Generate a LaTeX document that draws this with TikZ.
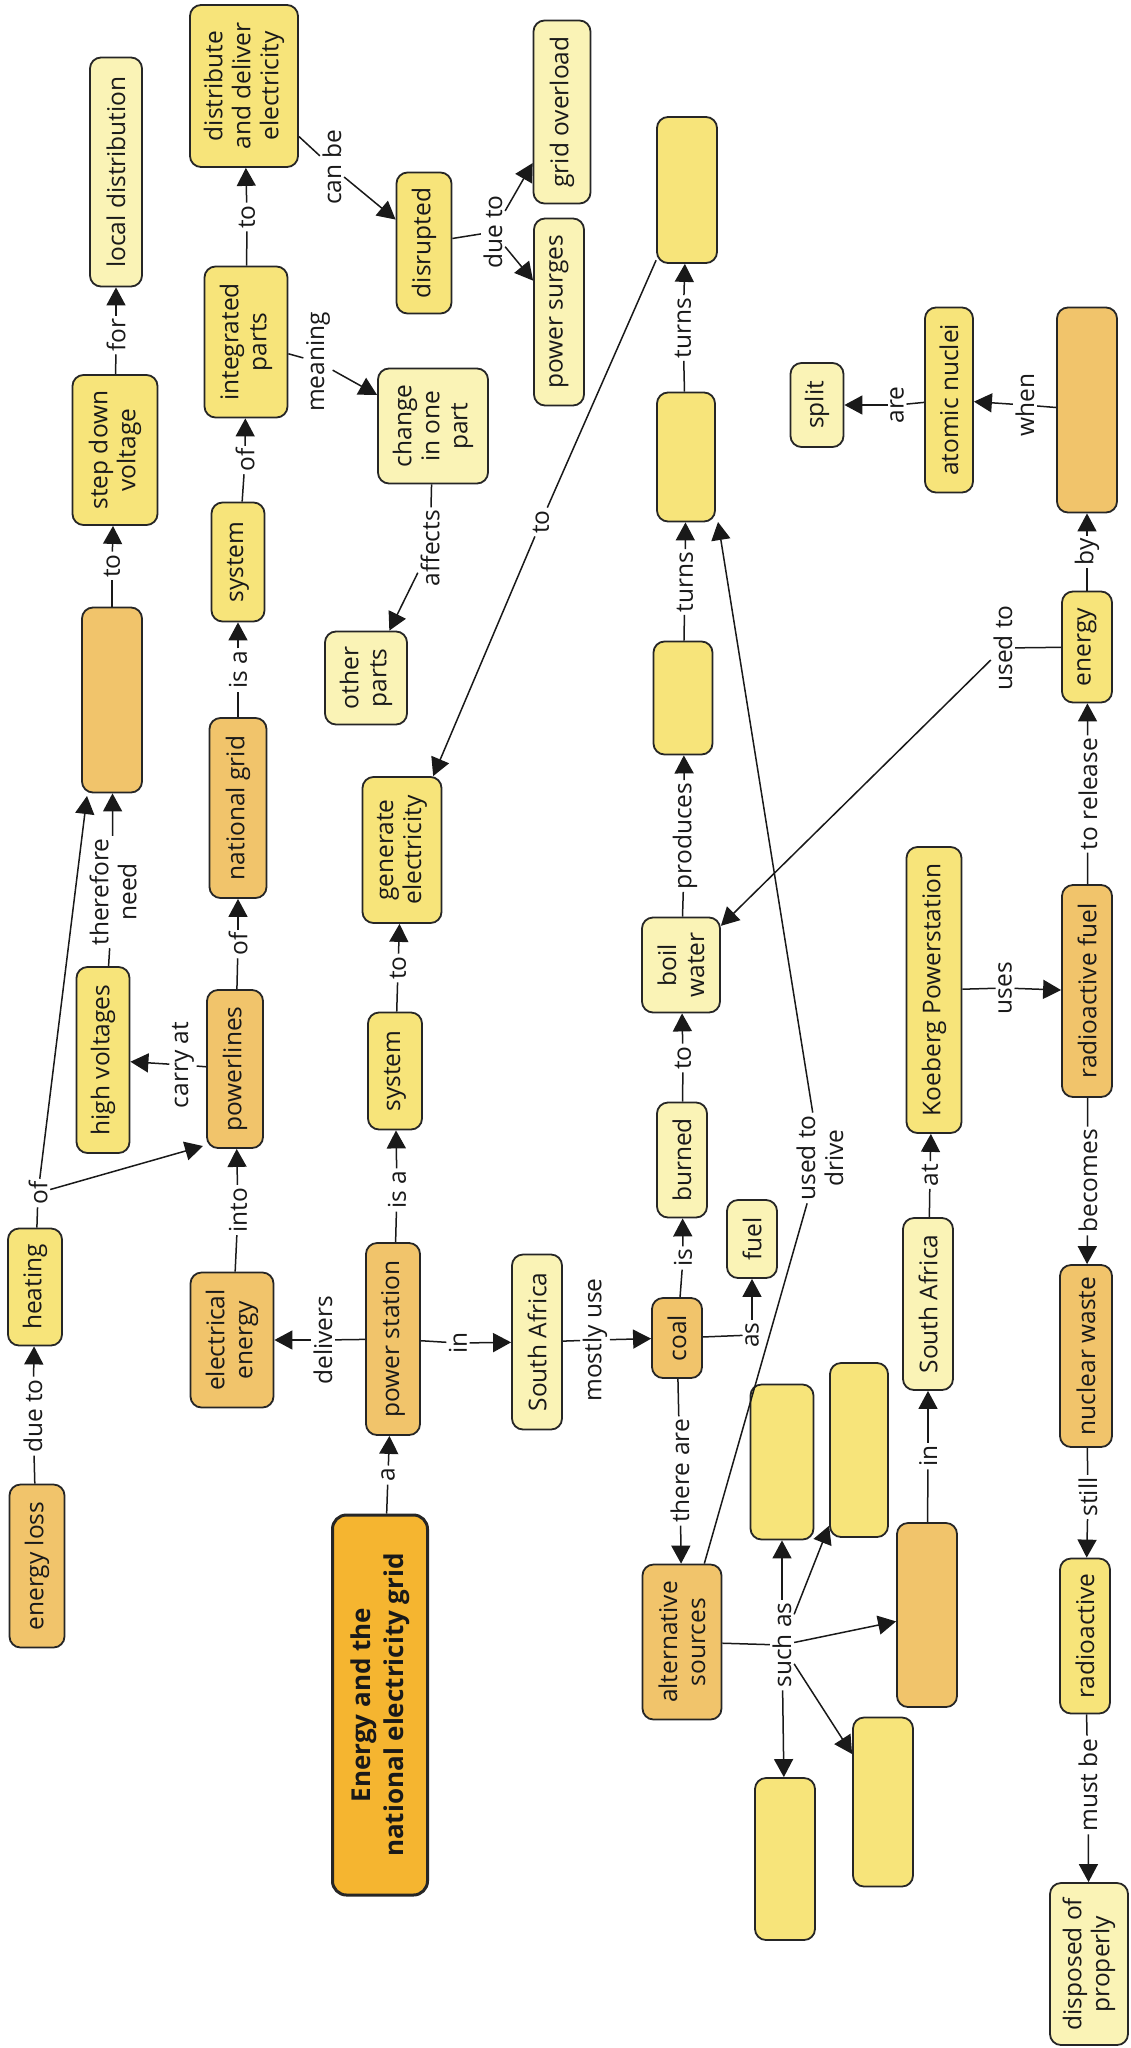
\documentclass[tikz,border=0pt]{standalone}
\usepackage{fontspec}
\setmainfont{Open Sans}
\usetikzlibrary{arrows.meta}
\definecolor{cLight}{HTML}{FAF3B6}
\definecolor{cYel}{HTML}{F7E47A}
\definecolor{cOra}{HTML}{F1C46B}
\definecolor{cTitle}{HTML}{F5B530}
\newcommand{\cmfont}{\fontsize{24.5}{28}\selectfont}
\newcommand{\cmtitle}{\fontsize{26}{33}\selectfont\bfseries}
\tikzset{
  box/.style={draw=black!85, line width=1.8pt, rounded corners=11pt, rotate=90, align=center, inner sep=2pt, font=\cmfont, text=black!90},
  lt/.style={box, fill=cLight},
  yl/.style={box, fill=cYel},
  og/.style={box, fill=cOra},
  ttl/.style={box, fill=cTitle, line width=3pt, rounded corners=14pt, font=\cmtitle},
  lbl/.style={rotate=90, inner sep=2.5pt, align=center, font=\cmfont, text=black!90},
  ln/.style={line width=1.5pt, draw=black!90},
  ar/.style={line width=1.5pt, draw=black!90, -{Triangle[length=18pt,width=19pt]}}
}
\begin{document}
\begin{tikzpicture}[x=1pt,y=-1pt]
\useasboundingbox (0,0) rectangle (1131,2048);
\fill[white] (0,0) rectangle (1131,2048);
% concepts
\node[lt, minimum width=229pt, minimum height=52pt] (locdist) at (116,172) {local distribution};
\node[yl, minimum width=150pt, minimum height=85pt] (stepdown) at (115,450) {step down\\voltage};
\node[yl, minimum width=162pt, minimum height=108pt] (distrib) at (244,86) {distribute\\and deliver\\electricity};
\node[yl, minimum width=151pt, minimum height=83pt] (integ) at (246,342) {integrated\\parts};
\node[yl, minimum width=141pt, minimum height=55pt] (disrupted) at (424,243) {disrupted};
\node[lt, minimum width=183pt, minimum height=57pt] (gridover) at (562,112) {grid overload};
\node[lt, minimum width=187pt, minimum height=50pt] (surges) at (559,312) {power surges};
\node[lt, minimum width=115pt, minimum height=110pt] (change) at (433,426) {change\\in one\\part};
\node[yl, minimum width=146pt, minimum height=60pt] (gA) at (687,190) {};
\node[yl, minimum width=129pt, minimum height=58pt] (gB) at (686,457) {};
\node[yl, minimum width=113pt, minimum height=59pt] (gC) at (683,698) {};
\node[lt, minimum width=95pt, minimum height=78pt] (boil) at (681,965) {boil\\water};
\node[lt, minimum width=115pt, minimum height=50pt] (burned) at (682,1160) {burned};
\node[og, minimum width=80pt, minimum height=50pt] (coal) at (677,1338) {coal};
\node[lt, minimum width=78pt, minimum height=50pt] (fuel) at (752,1239) {fuel};
\node[og, minimum width=155pt, minimum height=79pt] (altsrc) at (682,1642) {alternative\\sources};
\node[yl, minimum width=155pt, minimum height=63pt] (altA) at (782,1462) {};
\node[yl, minimum width=174pt, minimum height=58pt] (altB) at (859,1450) {};
\node[og, minimum width=184pt, minimum height=60pt] (altC) at (927,1615) {};
\node[yl, minimum width=169pt, minimum height=60pt] (altD) at (883,1802) {};
\node[yl, minimum width=162pt, minimum height=60pt] (altE) at (785,1859) {};
\node[lt, minimum width=172pt, minimum height=50pt] (safB) at (928,1304) {South Africa};
\node[yl, minimum width=286pt, minimum height=55pt] (koeberg) at (934,990) {Koeberg Powerstation};
\node[og, minimum width=212pt, minimum height=50pt] (radfuel) at (1087,991) {radioactive fuel};
\node[yl, minimum width=111pt, minimum height=50pt] (energy) at (1087,647) {energy};
\node[og, minimum width=205pt, minimum height=60pt] (orTR) at (1087,410) {};
\node[yl, minimum width=185pt, minimum height=48pt] (atomic) at (949,400) {atomic nuclei};
\node[lt, minimum width=84pt, minimum height=53pt] (split) at (817,405) {split};
\node[og, minimum width=182pt, minimum height=52pt] (nwaste) at (1086,1356) {nuclear waste};
\node[yl, minimum width=155pt, minimum height=50pt] (radio) at (1085,1636) {radioactive};
\node[lt, minimum width=162pt, minimum height=78pt] (disposed) at (1089,1964) {disposed of\\properly};
\node[ttl, minimum width=380pt, minimum height=95pt] (title) at (380,1705) {Energy and the\\national electricity grid};
\node[og, minimum width=192pt, minimum height=54pt] (pstation) at (393,1339) {power station};
\node[yl, minimum width=117pt, minimum height=54pt] (sysB) at (395,1071) {system};
\node[yl, minimum width=146pt, minimum height=79pt] (generate) at (402,850) {generate\\electricity};
\node[lt, minimum width=175pt, minimum height=50pt] (safA) at (537,1342) {South Africa};
\node[og, minimum width=135pt, minimum height=83pt] (elec) at (232,1340) {electrical\\energy};
\node[og, minimum width=158pt, minimum height=56pt] (plines) at (235,1069) {powerlines};
\node[yl, minimum width=186pt, minimum height=53pt] (highv) at (103,1060) {high voltages};
\node[og, minimum width=180pt, minimum height=57pt] (natgrid) at (238,808) {national grid};
\node[yl, minimum width=119pt, minimum height=53pt] (sysA) at (238,562) {system};
\node[og, minimum width=185pt, minimum height=60pt] (orTL) at (112,700) {};
\node[lt, minimum width=93pt, minimum height=82pt] (other) at (366,678) {other\\parts};
\node[yl, minimum width=117pt, minimum height=54pt] (heating) at (35,1287) {heating};
\node[og, minimum width=163pt, minimum height=55pt] (eloss) at (37,1566) {energy loss};
% connector end points at box corners
\coordinate (plTip) at (203,1146);
\coordinate (orTip) at (87,796);
\coordinate (gBTip) at (718,522);
% linking phrases
\node[lbl] (lFor) at (116,335) {for};
\node[lbl] (lToA) at (247,217) {to};
\node[lbl] (lOfA) at (245,460) {of};
\node[lbl] (lMean) at (318,362) {meaning};
\node[lbl] (lCan) at (332,167) {can be};
\node[lbl] (lDueA) at (493,232) {due to};
\node[lbl] (lAff) at (430,548) {affects};
\node[lbl] (lTurnA) at (683,328) {turns};
\node[lbl] (lTurnB) at (685,582) {turns};
\node[lbl] (lProd) at (685,836) {produces};
\node[lbl] (lToB) at (683,1058) {to};
\node[lbl] (lIs) at (683,1258) {is};
\node[lbl] (lThere) at (680,1471) {there are};
\node[lbl] (lAs) at (752,1335) {as};
\node[lbl] (lDrive) at (820,1158) {used to\\drive};
\node[lbl] (lMost) at (595,1340) {mostly use};
\node[lbl] (lInA) at (458,1343) {in};
\node[lbl] (lIsaB) at (397,1190) {is a};
\node[lbl] (lToC) at (398,968) {to};
\node[lbl] (lA) at (388,1475) {a};
\node[lbl] (lDeliv) at (323,1340) {delivers};
\node[lbl] (lInto) at (238,1210) {into};
\node[lbl] (lCarry) at (183,1065) {carry at};
\node[lbl] (lOfB) at (238,944) {of};
\node[lbl] (lIsaA) at (238,670) {is a};
\node[lbl] (lTher) at (113,892) {therefore\\need};
\node[lbl] (lToD) at (112,566) {to};
\node[lbl] (lDueB) at (33,1416) {due to};
\node[lbl] (lOfC) at (38,1193) {of};
\node[lbl] (lToE) at (541,522) {to};
\node[lbl] (lUsed) at (1003,648) {used to};
\node[lbl] (lBy) at (1087,552) {by};
\node[lbl] (lWhen) at (1025,405) {when};
\node[lbl] (lAre) at (897,405) {are};
\node[lbl] (lUses) at (1005,988) {uses};
\node[lbl] (lRel) at (1088,794) {to release};
\node[lbl] (lBec) at (1088,1181) {becomes};
\node[lbl] (lStill) at (1088,1497) {still};
\node[lbl] (lMust) at (1088,1785) {must be};
\node[lbl] (lInB) at (928,1456) {in};
\node[lbl] (lAt) at (930,1175) {at};
\node[lbl] (lSuch) at (782,1645) {such as};
% connectors
\draw[ln] (stepdown) -- (lFor); \draw[ar] (lFor) -- (locdist);
\draw[ln] (integ) -- (lToA); \draw[ar] (lToA) -- (distrib);
\draw[ln] (sysA) -- (lOfA); \draw[ar] (lOfA) -- (integ);
\draw[ln] (integ) -- (lMean); \draw[ar] (lMean) -- (change);
\draw[ln] (distrib) -- (lCan); \draw[ar] (lCan) -- (disrupted);
\draw[ln] (disrupted) -- (lDueA); \draw[ar] (lDueA) -- (gridover); \draw[ar] (lDueA) -- (surges);
\draw[ln] (change) -- (lAff); \draw[ar] (lAff) -- (other);
\draw[ln] (gC) -- (lTurnB); \draw[ar] (lTurnB) -- (gB);
\draw[ln] (gB) -- (lTurnA); \draw[ar] (lTurnA) -- (gA);
\draw[ln] (boil) -- (lProd); \draw[ar] (lProd) -- (gC);
\draw[ln] (burned) -- (lToB); \draw[ar] (lToB) -- (boil);
\draw[ln] (coal) -- (lIs); \draw[ar] (lIs) -- (burned);
\draw[ln] (coal) -- (lThere); \draw[ar] (lThere) -- (altsrc);
\draw[ln] (coal) -- (lAs); \draw[ar] (lAs) -- (fuel);
\draw[ln] (altsrc) -- (lDrive); \draw[ar] (lDrive) -- (gBTip);
\draw[ln] (safA) -- (lMost); \draw[ar] (lMost) -- (coal);
\draw[ln] (pstation) -- (lInA); \draw[ar] (lInA) -- (safA);
\draw[ln] (pstation) -- (lIsaB); \draw[ar] (lIsaB) -- (sysB);
\draw[ln] (sysB) -- (lToC); \draw[ar] (lToC) -- (generate);
\draw[ln] (title) -- (lA); \draw[ar] (lA) -- (pstation);
\draw[ln] (pstation) -- (lDeliv); \draw[ar] (lDeliv) -- (elec);
\draw[ln] (elec) -- (lInto); \draw[ar] (lInto) -- (plines);
\draw[ln] (plines) -- (lCarry); \draw[ar] (lCarry) -- (highv);
\draw[ln] (plines) -- (lOfB); \draw[ar] (lOfB) -- (natgrid);
\draw[ln] (natgrid) -- (lIsaA); \draw[ar] (lIsaA) -- (sysA);
\draw[ln] (highv) -- (lTher); \draw[ar] (lTher) -- (orTL);
\draw[ln] (orTL) -- (lToD); \draw[ar] (lToD) -- (stepdown);
\draw[ln] (eloss) -- (lDueB); \draw[ar] (lDueB) -- (heating);
\draw[ln] (heating) -- (lOfC); \draw[ar] (lOfC) -- (plTip); \draw[ar] (lOfC) -- (orTip);
\draw[ln] (gA) -- (lToE); \draw[ar] (lToE) -- (generate);
\draw[ln] (energy) -- (lUsed); \draw[ar] (lUsed) -- (boil);
\draw[ln] (energy) -- (lBy); \draw[ar] (lBy) -- (orTR);
\draw[ln] (orTR) -- (lWhen); \draw[ar] (lWhen) -- (atomic);
\draw[ln] (atomic) -- (lAre); \draw[ar] (lAre) -- (split);
\draw[ln] (koeberg) -- (lUses); \draw[ar] (lUses) -- (radfuel);
\draw[ln] (radfuel) -- (lRel); \draw[ar] (lRel) -- (energy);
\draw[ln] (radfuel) -- (lBec); \draw[ar] (lBec) -- (nwaste);
\draw[ln] (nwaste) -- (lStill); \draw[ar] (lStill) -- (radio);
\draw[ln] (radio) -- (lMust); \draw[ar] (lMust) -- (disposed);
\draw[ln] (altC) -- (lInB); \draw[ar] (lInB) -- (safB);
\draw[ln] (safB) -- (lAt); \draw[ar] (lAt) -- (koeberg);
\draw[ln] (altsrc) -- (lSuch);
\draw[ar] (lSuch) -- (altA); \draw[ar] (lSuch) -- (altB); \draw[ar] (lSuch) -- (altC);
\draw[ar] (lSuch) -- (altD); \draw[ar] (lSuch) -- (altE);
\end{tikzpicture}
\end{document}
